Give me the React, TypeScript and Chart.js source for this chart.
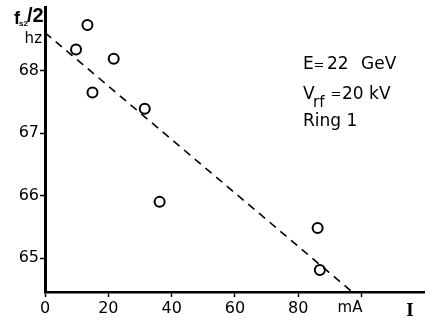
import React, { useEffect, useRef } from 'react';
import { Chart, registerables } from 'chart.js';

Chart.register(...registerables);

// Beam current (mA) and measured frequency fs2/2 (hz)
const currentMA = [13.4, 9.8, 21.7, 15.0, 31.5, 36.2, 86.1, 86.8];
const freqHz = [68.73, 68.34, 68.19, 67.65, 67.39, 65.9, 65.48, 64.81];
// Dashed fit line end points
const fitCurrent = [0, 97.05];
const fitFreq = [68.61, 64.457];
// Axes
const xTicks = [0, 20, 40, 60, 80, 100];
const xTickLabels = ['0', '20', '40', '60', '80', ''];
const yTicks = [65, 66, 67, 68];
const yTickLabels = ['65', '66', '67', '68'];
const xRange = [0, 119.7];
const yRange = [64.457, 69.02];

const FONT = '"DejaVu Sans", sans-serif';
const BOLD = '"Liberation Sans", sans-serif';

const textPlugin = {
  id: 'annotTexts',
  afterDraw(chart: any) {
    const ctx = chart.ctx as CanvasRenderingContext2D;
    ctx.save();
    ctx.fillStyle = '#000';
    ctx.textBaseline = 'alphabetic';
    ctx.textAlign = 'left';
    // y axis title  f_s2 / 2
    ctx.font = `bold 18px ${BOLD}`;
    ctx.fillText('f', 14, 24);
    ctx.font = `bold 8px ${BOLD}`;
    ctx.fillText('s2', 19, 26);
    ctx.font = `bold 20px ${BOLD}`;
    ctx.fillText('/2', 27, 22);
    // unit
    ctx.font = `15px ${FONT}`;
    ctx.textAlign = 'right';
    ctx.fillText('hz', 42, 43);
    // x unit
    ctx.textAlign = 'center';
    ctx.fillText('mA', 350, 312);
    ctx.font = `bold 19px "Liberation Serif", serif`;
    ctx.fillText('I', 410, 316);
    // info block
    ctx.textAlign = 'left';
    ctx.font = `17px ${FONT}`;
    ctx.fillText('E', 303, 69);
    ctx.fillText('22', 327, 69);
    ctx.fillText('GeV', 361, 69);
    ctx.font = `13px ${FONT}`;
    ctx.fillText('=', 313.5, 69);
    ctx.font = `17px ${FONT}`;
    ctx.fillText('V', 303, 99);
    ctx.fillText('20 kV', 342, 99);
    ctx.font = `13px ${FONT}`;
    ctx.fillText('=', 330.5, 98);
    ctx.font = `15px ${FONT}`;
    ctx.fillText('rf', 313, 107);
    ctx.font = `17px ${FONT}`;
    ctx.fillText('Ring 1', 303, 126);
    ctx.restore();
  },
};

export default function App() {
  const ref = useRef<HTMLCanvasElement | null>(null);

  useEffect(() => {
    if (!ref.current) return;
    const chart = new Chart(ref.current, {
      type: 'scatter',
      data: {
        datasets: [
          {
            type: 'line',
            data: fitCurrent.map((x, i) => ({ x, y: fitFreq[i] })),
            borderColor: '#000',
            borderWidth: 1.6,
            borderDash: [8, 6],
            pointRadius: 0,
            fill: false,
          } as any,
          {
            data: currentMA.map((x, i) => ({ x, y: freqHz[i] })),
            pointStyle: 'circle',
            pointRadius: 5,
            pointBorderWidth: 2,
            pointBorderColor: '#000',
            pointBackgroundColor: 'rgba(255,255,255,0)',
            borderColor: '#000',
            backgroundColor: 'rgba(255,255,255,0)',
          },
        ],
      },
      options: {
        animation: false,
        responsive: false,
        devicePixelRatio: 1,
        layout: { padding: { top: 6, right: 0, left: 0, bottom: 0 } },
        plugins: { legend: { display: false }, tooltip: { enabled: false } },
        scales: {
          x: {
            type: 'linear',
            min: xRange[0],
            max: xRange[1],
            afterBuildTicks: (s: any) => {
              s.ticks = xTicks.map((v) => ({ value: v }));
            },
            afterFit: (s: any) => {
              s.height = 30;
              s.paddingLeft = 0;
              s.paddingRight = 0;
            },
            ticks: {
              color: '#000',
              font: { family: FONT, size: 16 },
              padding: 2,
              maxRotation: 0,
              autoSkip: false,
              callback: (v: any) => xTickLabels[xTicks.indexOf(Number(v))] ?? '',
            },
            grid: { drawOnChartArea: false, tickLength: 5, tickWidth: 1.5, color: '#000' },
            border: { display: true, width: 2.5, color: '#000' },
          },
          y: {
            type: 'linear',
            min: yRange[0],
            max: yRange[1],
            afterBuildTicks: (s: any) => {
              s.ticks = yTicks.map((v) => ({ value: v }));
            },
            afterFit: (s: any) => {
              s.width = 45;
              s.paddingTop = 0;
              s.paddingBottom = 0;
            },
            ticks: {
              color: '#000',
              font: { family: FONT, size: 16 },
              padding: 1,
              autoSkip: false,
              callback: (v: any) => yTickLabels[yTicks.indexOf(Number(v))] ?? '',
            },
            grid: { drawOnChartArea: false, tickLength: 5, tickWidth: 1.5, color: '#000' },
            border: { display: true, width: 3, color: '#000' },
          },
        },
      },
      plugins: [textPlugin],
    });
    return () => chart.destroy();
  }, []);

  return (
    <div style={{ position: 'fixed', left: 0, top: 0, width: 431, height: 322, background: '#fff' }}>
      <canvas ref={ref} width={431} height={322} style={{ display: 'block' }} />
    </div>
  );
}
